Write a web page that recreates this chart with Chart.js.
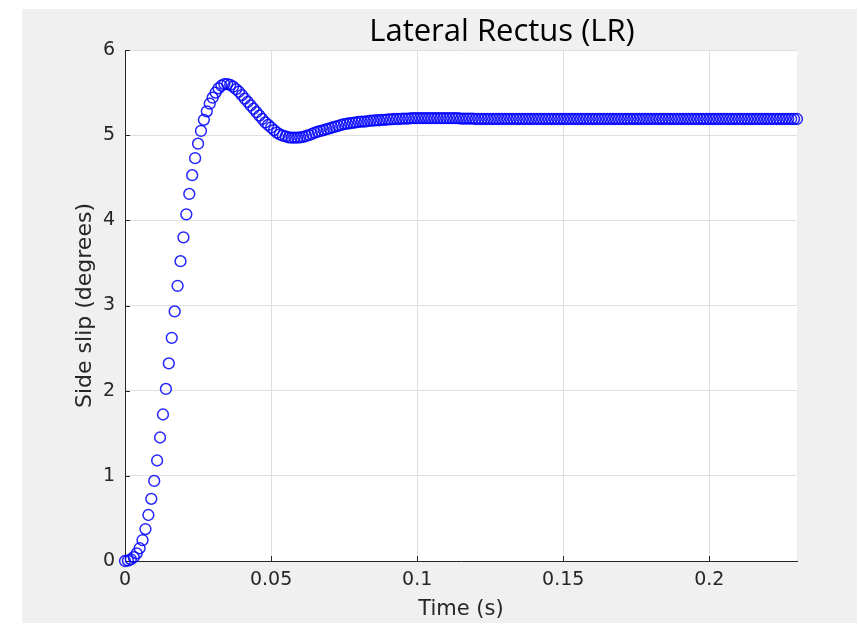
<!DOCTYPE html>
<html>
<head>
<meta charset="utf-8">
<title>Lateral Rectus (LR)</title>
<script src="https://cdn.jsdelivr.net/npm/chart.js@4"></script>
<style>
  html, body { margin: 0; padding: 0; background: #ffffff; }
  #wrap { position: absolute; left: 22px; top: 9px; width: 835px; height: 614px; background: #f0f0f0; }
  #chart { display: block; }
</style>
</head>
<body>
<div id="wrap"><canvas id="chart" width="835" height="614"></canvas></div>
<script>
(function(){
  var TITLE = "Lateral Rectus (LR)";
  var X_LABEL = "Time (s)";
  var Y_LABEL = "Side slip (degrees)";

  var xTicks = [0, 0.05, 0.1, 0.15, 0.2];
  var yTicks = [0, 1, 2, 3, 4, 5, 6];

  // time in seconds (1 ms samples)
  var timeS = [
    0, 0.001, 0.002, 0.003, 0.004, 0.005, 0.006, 0.007, 0.008, 0.009,
    0.010, 0.011, 0.012, 0.013, 0.014, 0.015, 0.016, 0.017, 0.018, 0.019,
    0.020, 0.021, 0.022, 0.023, 0.024, 0.025, 0.026, 0.027, 0.028, 0.029,
    0.030, 0.031, 0.032, 0.033, 0.034, 0.035, 0.036, 0.037, 0.038, 0.039,
    0.040, 0.041, 0.042, 0.043, 0.044, 0.045, 0.046, 0.047, 0.048, 0.049,
    0.050, 0.051, 0.052, 0.053, 0.054, 0.055, 0.056, 0.057, 0.058, 0.059,
    0.060, 0.061, 0.062, 0.063, 0.064, 0.065, 0.066, 0.067, 0.068, 0.069,
    0.070, 0.071, 0.072, 0.073, 0.074, 0.075, 0.076, 0.077, 0.078, 0.079,
    0.080, 0.081, 0.082, 0.083, 0.084, 0.085, 0.086, 0.087, 0.088, 0.089,
    0.090, 0.091, 0.092, 0.093, 0.094, 0.095, 0.096, 0.097, 0.098, 0.099,
    0.100, 0.101, 0.102, 0.103, 0.104, 0.105, 0.106, 0.107, 0.108, 0.109,
    0.110, 0.111, 0.112, 0.113, 0.114, 0.115, 0.116, 0.117, 0.118, 0.119,
    0.120, 0.121, 0.122, 0.123, 0.124, 0.125, 0.126, 0.127, 0.128, 0.129,
    0.130, 0.131, 0.132, 0.133, 0.134, 0.135, 0.136, 0.137, 0.138, 0.139,
    0.140, 0.141, 0.142, 0.143, 0.144, 0.145, 0.146, 0.147, 0.148, 0.149,
    0.150, 0.151, 0.152, 0.153, 0.154, 0.155, 0.156, 0.157, 0.158, 0.159,
    0.160, 0.161, 0.162, 0.163, 0.164, 0.165, 0.166, 0.167, 0.168, 0.169,
    0.170, 0.171, 0.172, 0.173, 0.174, 0.175, 0.176, 0.177, 0.178, 0.179,
    0.180, 0.181, 0.182, 0.183, 0.184, 0.185, 0.186, 0.187, 0.188, 0.189,
    0.190, 0.191, 0.192, 0.193, 0.194, 0.195, 0.196, 0.197, 0.198, 0.199,
    0.200, 0.201, 0.202, 0.203, 0.204, 0.205, 0.206, 0.207, 0.208, 0.209,
    0.210, 0.211, 0.212, 0.213, 0.214, 0.215, 0.216, 0.217, 0.218, 0.219,
    0.220, 0.221, 0.222, 0.223, 0.224, 0.225, 0.226, 0.227, 0.228, 0.229,
    0.230
  ];

  // side slip in degrees
  var sideSlip = [
    0, 0.005, 0.02, 0.045, 0.09, 0.15, 0.245, 0.375, 0.54, 0.73,
    0.94, 1.18, 1.45, 1.72, 2.02, 2.32, 2.62, 2.93, 3.23, 3.52,
    3.80, 4.07, 4.31, 4.53, 4.73, 4.90, 5.05, 5.18, 5.28, 5.37,
    5.44, 5.50, 5.55, 5.58, 5.60, 5.60, 5.59, 5.57, 5.54, 5.51,
    5.47, 5.43, 5.39, 5.35, 5.31, 5.27, 5.23, 5.19, 5.15, 5.12,
    5.09, 5.06, 5.03, 5.01, 4.995, 4.985, 4.975, 4.97, 4.97, 4.97,
    4.975, 4.98, 4.99, 5.00, 5.015, 5.03, 5.04, 5.05, 5.06, 5.07,
    5.08, 5.09, 5.10, 5.11, 5.12, 5.13, 5.135, 5.14, 5.145, 5.15,
    5.155, 5.16, 5.16, 5.165, 5.17, 5.17, 5.175, 5.175, 5.18, 5.18,
    5.185, 5.185, 5.19, 5.19, 5.19, 5.195, 5.195, 5.195, 5.20, 5.20,
    5.20, 5.20, 5.20, 5.20, 5.20, 5.20, 5.20, 5.20, 5.20, 5.20,
    5.20, 5.20, 5.20, 5.20, 5.20, 5.195, 5.195, 5.195, 5.195, 5.195,
    5.19, 5.19, 5.19, 5.19, 5.19, 5.19, 5.19, 5.19, 5.19, 5.19,
    5.19, 5.19, 5.19, 5.19, 5.19, 5.19, 5.19, 5.19, 5.19, 5.19,
    5.19, 5.19, 5.19, 5.19, 5.19, 5.19, 5.19, 5.19, 5.19, 5.19,
    5.19, 5.19, 5.19, 5.19, 5.19, 5.19, 5.19, 5.19, 5.19, 5.19,
    5.19, 5.19, 5.19, 5.19, 5.19, 5.19, 5.19, 5.19, 5.19, 5.19,
    5.19, 5.19, 5.19, 5.19, 5.19, 5.19, 5.19, 5.19, 5.19, 5.19,
    5.19, 5.19, 5.19, 5.19, 5.19, 5.19, 5.19, 5.19, 5.19, 5.19,
    5.19, 5.19, 5.19, 5.19, 5.19, 5.19, 5.19, 5.19, 5.19, 5.19,
    5.19, 5.19, 5.19, 5.19, 5.19, 5.19, 5.19, 5.19, 5.19, 5.19,
    5.19, 5.19, 5.19, 5.19, 5.19, 5.19, 5.19, 5.19, 5.19, 5.19,
    5.19, 5.19, 5.19, 5.19, 5.19, 5.19, 5.19, 5.19, 5.19, 5.19,
    5.19
  ];

  var AXIS_COLOR = "#262626";
  var GRID_COLOR = "#dfdfdf";
  var FONT = "'DejaVu Sans', sans-serif";

  var points = timeS.map(function(t, i){ return { x: t, y: sideSlip[i] }; });

  function fmtTick(v){ return String(Number(v.toFixed(2))); }

  // white plot box, inward ticks and the title
  var matlabLook = {
    id: "matlabLook",
    beforeDraw: function(chart){
      var a = chart.chartArea, ctx = chart.ctx;
      ctx.save();
      ctx.fillStyle = "#ffffff";
      ctx.fillRect(a.left, a.top, a.right - a.left, a.bottom - a.top);
      ctx.restore();
    },
    beforeDatasetsDraw: function(chart){
      var a = chart.chartArea, ctx = chart.ctx;
      var xs = chart.scales.x, ys = chart.scales.y;
      ctx.save();
      ctx.strokeStyle = AXIS_COLOR;
      ctx.lineWidth = 1;
      ctx.beginPath();
      xTicks.forEach(function(v){
        var px = Math.round(xs.getPixelForValue(v)) + 0.5;
        ctx.moveTo(px, a.bottom); ctx.lineTo(px, a.bottom - 5);
      });
      yTicks.forEach(function(v){
        var py = Math.round(ys.getPixelForValue(v)) + 0.5;
        ctx.moveTo(a.left, py); ctx.lineTo(a.left + 5, py);
      });
      ctx.stroke();
      ctx.restore();
    },
    afterDraw: function(chart){
      var ctx = chart.ctx;
      ctx.save();
      ctx.fillStyle = "#000000";
      ctx.font = "31px 'Open Sans', sans-serif";
      ctx.textAlign = "center";
      ctx.textBaseline = "alphabetic";
      ctx.fillText(TITLE, 480, 32);
      ctx.restore();
    }
  };

  new Chart(document.getElementById("chart"), {
    type: "scatter",
    data: {
      datasets: [{
        data: points,
        showLine: false,
        pointStyle: "circle",
        pointRadius: 5.4,
        pointHoverRadius: 5.4,
        pointBorderWidth: 1.5,
        pointBorderColor: "rgba(0,0,255,0.85)",
        pointBackgroundColor: "rgba(0,0,0,0)",
        clip: false
      }]
    },
    options: {
      responsive: false,
      animation: false,
      layout: { padding: { left: 0, right: 60, top: 41, bottom: 0 } },
      plugins: { legend: { display: false }, tooltip: { enabled: false }, title: { display: false } },
      scales: {
        x: {
          type: "linear",
          min: 0, max: 0.23,
          afterBuildTicks: function(s){ s.ticks = xTicks.map(function(v){ return { value: v }; }); },
          afterFit: function(s){ s.height = 62; },
          grid: { color: GRID_COLOR, drawTicks: false },
          border: { color: AXIS_COLOR, width: 1 },
          ticks: { color: AXIS_COLOR, font: { family: FONT, size: 19 }, padding: 8, maxRotation: 0, callback: fmtTick },
          title: { display: true, text: X_LABEL, color: AXIS_COLOR, font: { family: FONT, size: 21 }, padding: { top: 0, bottom: 1 } }
        },
        y: {
          type: "linear",
          min: 0, max: 6,
          afterBuildTicks: function(s){ s.ticks = yTicks.map(function(v){ return { value: v }; }); },
          afterFit: function(s){ s.width = 103; },
          grid: { color: GRID_COLOR, drawTicks: false },
          border: { color: AXIS_COLOR, width: 1 },
          ticks: { color: AXIS_COLOR, font: { family: FONT, size: 19 }, padding: 10 },
          title: { display: true, text: Y_LABEL, color: AXIS_COLOR, font: { family: FONT, size: 22 }, padding: { top: 50, bottom: 0 } }
        }
      }
    },
    plugins: [matlabLook]
  });
})();
</script>
</body>
</html>
